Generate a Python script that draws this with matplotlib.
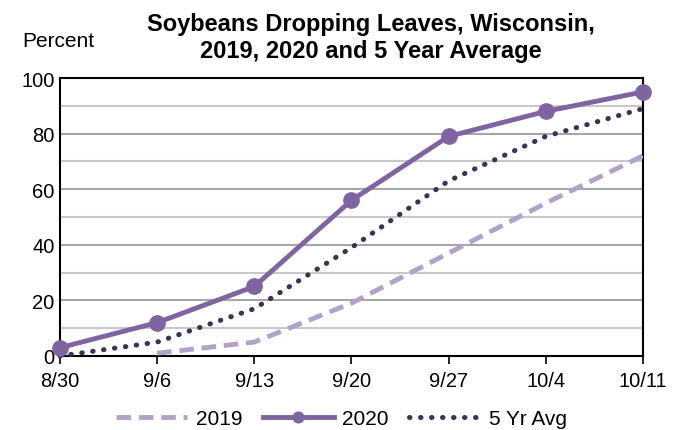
import matplotlib.pyplot as plt
import numpy as np

plt.rcParams['font.family'] = ['Liberation Sans', 'DejaVu Sans']

# Datos
semanas = ['8/30', '9/6', '9/13', '9/20', '9/27', '10/4', '10/11']
valores2019 = [np.nan, 1, 5, 19, 37, 55, 72]
valores2020 = [3, 12, 25, 56, 79, 88, 95]
promedio5 = [0, 5, 17, 39, 63, 79, 89]

x = np.arange(len(semanas))

fig = plt.figure(figsize=(6.83, 4.31), dpi=100)
ax = fig.add_axes([0.0878, 0.1717, 0.8536, 0.645])

# Lineas de rejilla: cada 10 claras, cada 20 mas oscuras
for v in range(10, 100, 10):
    color = '#a6a6a6' if v % 20 == 0 else '#c8c8c8'
    ax.axhline(v, color=color, lw=1.5, zorder=1)

ax.plot(x, valores2019, color='#b3a2c7', lw=3.5, dashes=(3, 1.6), label='2019', zorder=3)
ax.plot(x, valores2020, color='#8064a2', lw=3.5, marker='o', markersize=11, label='2020',
        zorder=4, clip_on=False)
ax.plot(x, promedio5, color='#3f3151', lw=3.6, linestyle=(0, (0.1, 2.1)), dash_capstyle='round',
        label='5 Yr Avg', zorder=3, clip_on=False)

ax.set_xlim(0, len(semanas) - 1)
ax.set_ylim(0, 100)
ax.set_xticks(x)
ax.set_xticklabels(semanas, fontsize=14.5)
ax.set_yticks(range(0, 101, 20))
ax.tick_params(axis='y', length=0, labelsize=14.5, pad=4)
ax.tick_params(axis='x', length=6, width=1.2, direction='out', pad=5)
for s in ax.spines.values():
    s.set_linewidth(1.5)
    s.set_color('black')

fig.text(0.085, 0.903, 'Percent', fontsize=15, ha='center', va='center')
fig.text(0.543, 0.912, 'Soybeans Dropping Leaves, Wisconsin,\n2019, 2020 and 5 Year Average',
         fontsize=17, fontweight='bold', ha='center', va='center', linespacing=1.2)

fig.legend(loc='lower center', bbox_to_anchor=(0.5, -0.04), ncol=3, frameon=False,
           fontsize=15, handlelength=3.4, columnspacing=1.0, handletextpad=0.4,
           markerscale=0.7)

fig.savefig('out.png', dpi=100)
